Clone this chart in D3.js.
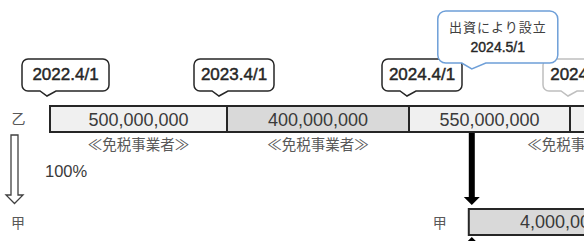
<!DOCTYPE html>
<html><head><meta charset="utf-8">
<script src="https://cdn.jsdelivr.net/npm/d3@7"></script>
<style>
html,body{margin:0;padding:0;background:#fff;}
svg{display:block;}
</style></head>
<body><svg id="c" width="584" height="241"></svg>
<script>
// ---- data ----
const entities = ["乙", "甲"];
const periodDates = ["2022.4/1", "2023.4/1", "2024.4/1", "2024.10/1"];
const segmentValues = [500000000, 400000000, 550000000, null];
const statusLabels = ["≪免税事業者≫", "≪免税事業者≫", null, "≪免税事業者≫"];
const ownershipLabel = ["100%"];
const establishNote = ["出資により設立", "2024.5/1"];
const koValues = [4000000];

// ---- layout ----
const svg = d3.select("#c");
const W = 584, H = 241;
svg.append("rect").attr("width", W).attr("height", H).attr("fill", "#fff");

// period boundary index -> pixel (segments of the timeline)
const x = d3.scaleLinear().domain([0, 1, 2, 3, 4]).range([50, 227, 409, 570, 740]);
const establishPos = 2.39; // 2024.5/1 position on the timeline index

const numFont = "'Liberation Sans Narrow','Liberation Sans',Arial,sans-serif";
const cjkFont = "'Noto Sans CJK JP','Noto Sans',sans-serif";
const fmt = d3.format(",");

const barTop = 106, barH = 26;
const segFill = (i) => i === 1 ? "#d9d9d9" : "#f0f0f0";

// 乙 bar segments
const segs = segmentValues.map((v, i) => ({v, i}));
svg.selectAll("rect.seg").data(segs).join("rect")
  .attr("class", "seg")
  .attr("x", d => x(d.i)).attr("y", barTop)
  .attr("width", d => x(d.i + 1) - x(d.i)).attr("height", barH)
  .attr("fill", d => segFill(d.i))
  .attr("stroke", "#262626").attr("stroke-width", 2);

svg.selectAll("text.segv").data(segs.filter(d => d.v != null)).join("text")
  .attr("class", "segv")
  .attr("x", d => (x(d.i) + x(d.i + 1)) / 2).attr("y", barTop + 19.5)
  .attr("text-anchor", "middle")
  .attr("font-family", numFont).attr("font-size", 18).attr("fill", "#3a3a3a")
  .text(d => fmt(d.v));

// status labels
svg.selectAll("text.status").data(statusLabels.map((s, i) => ({s, i})).filter(d => d.s)).join("text")
  .attr("class", "status")
  .attr("x", d => d.i === 3 ? x(3) + 8 : (x(d.i) + x(d.i + 1)) / 2)
  .attr("y", 150)
  .attr("text-anchor", "middle")
  .attr("font-family", cjkFont).attr("font-size", 14.5).attr("fill", "#595959")
  .text(d => d.s);

// callouts
function callout(bx, by, bw, bh, tipX, tipY, r, bl, br) {
  const p = d3.path();
  const bottom = by + bh;
  p.moveTo(bx + r, by);
  p.lineTo(bx + bw - r, by);
  p.arcTo(bx + bw, by, bx + bw, by + r, r);
  p.lineTo(bx + bw, bottom - r);
  p.arcTo(bx + bw, bottom, bx + bw - r, bottom, r);
  p.lineTo(tipX + br, bottom);
  p.lineTo(tipX, tipY);
  p.lineTo(tipX - bl, bottom);
  p.lineTo(bx + r, bottom);
  p.arcTo(bx, bottom, bx, bottom - r, r);
  p.lineTo(bx, by + r);
  p.arcTo(bx, by, bx + r, by, r);
  p.closePath();
  return p.toString();
}

const calloutData = periodDates.map((d, i) => ({d, i}));
const tipOff = [3, 8, 2, 2];
const boxW = i => i === 3 ? 90 : (i === 0 ? 87 : 80);
const cg = svg.selectAll("g.callout").data(calloutData).join("g").attr("class", "callout");
cg.append("path")
  .attr("d", d => {
    const tip = x(d.i) - tipOff[d.i];
    return callout(tip - 25, 59, boxW(d.i), 32, tip, 96, 6, 7, 9);
  })
  .attr("fill", "#fff")
  .attr("stroke", d => d.i === 3 ? "#bfbfbf" : "#262626")
  .attr("stroke-width", 1.5);
cg.append("text")
  .attr("x", d => x(d.i) - tipOff[d.i] - 25 + boxW(d.i) / 2)
  .attr("y", 80)
  .attr("text-anchor", "middle")
  .attr("font-family", numFont).attr("font-size", 17)
  .attr("fill", "#262626").attr("stroke", "#262626").attr("stroke-width", 0.45)
  .text(d => d.d);

// establishment callout (blue)
const ex = x(establishPos);
svg.append("path")
  .attr("d", callout(ex - 34, 11, 120, 52, ex, 69, 8, 10, 14))
  .attr("fill", "#fff").attr("stroke", "#6e9fd8").attr("stroke-width", 1.5);
svg.append("text").attr("x", ex + 26).attr("y", 32).attr("text-anchor", "middle")
  .attr("font-family", cjkFont).attr("font-size", 13).attr("fill", "#404040")
  .attr("letter-spacing", 1)
  .text(establishNote[0]);
svg.append("text").attr("x", ex + 26).attr("y", 52).attr("text-anchor", "middle")
  .attr("font-family", numFont).attr("font-size", 14).attr("fill", "#262626")
  .attr("stroke", "#262626").attr("stroke-width", 0.4)
  .text(establishNote[1]);

// entity labels
svg.append("text").attr("x", 18.5).attr("y", 124).attr("text-anchor", "middle")
  .attr("font-family", cjkFont).attr("font-size", 14).attr("fill", "#595959").text(entities[0]);
svg.append("text").attr("x", 18).attr("y", 228).attr("text-anchor", "middle")
  .attr("font-family", cjkFont).attr("font-size", 14).attr("fill", "#595959").text(entities[1]);
svg.append("text").attr("x", ex - 32).attr("y", 228).attr("text-anchor", "middle")
  .attr("font-family", cjkFont).attr("font-size", 14).attr("fill", "#595959").text(entities[1]);

// hollow ownership arrow
const ax = 14.5;
svg.append("path")
  .attr("d", `M${ax-3.5},135 L${ax+3.5},135 L${ax+3.5},195 L${ax+8.5},195 L${ax},203.5 L${ax-8.5},195 L${ax-3.5},195 Z`)
  .attr("fill", "#fff").attr("stroke", "#404040").attr("stroke-width", 1.3);
svg.append("text").attr("x", 45).attr("y", 177)
  .attr("font-family", numFont).attr("font-size", 16.5).attr("fill", "#3a3a3a").text(ownershipLabel[0]);

// black establishment arrow
svg.append("path")
  .attr("d", `M${ex-3},133 L${ex+3},133 L${ex+3},197 L${ex+8},197 L${ex},205 L${ex-8},197 L${ex-3},197 Z`)
  .attr("fill", "#000");

// 甲 bar
const kTop = 209;
svg.selectAll("rect.ko").data(koValues).join("rect").attr("class", "ko")
  .attr("x", ex - 3).attr("y", kTop).attr("width", 200).attr("height", barH)
  .attr("fill", "#d9d9d9").attr("stroke", "#262626").attr("stroke-width", 2);
svg.selectAll("text.kov").data(koValues).join("text").attr("class", "kov")
  .attr("x", 560).attr("y", kTop + 19)
  .attr("text-anchor", "middle")
  .attr("font-family", numFont).attr("font-size", 18).attr("fill", "#3a3a3a")
  .text(d => fmt(d));

// upward arrow below 甲 bar (partially visible)
svg.append("path")
  .attr("d", `M${ex},237 L${ex+8},245 L${ex+3},245 L${ex+3},260 L${ex-3},260 L${ex-3},245 L${ex-8},245 Z`)
  .attr("fill", "#000");
</script></body></html>
